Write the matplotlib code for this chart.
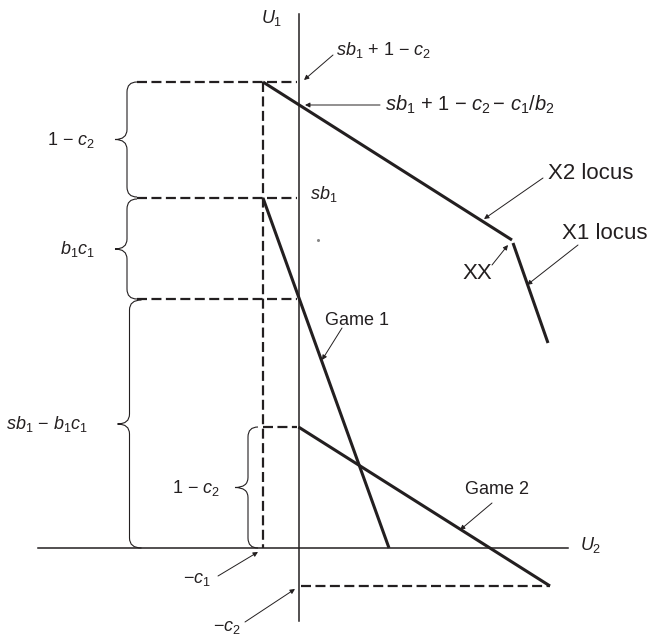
import matplotlib
matplotlib.use('Agg')
import matplotlib.pyplot as plt
from matplotlib.path import Path
from matplotlib.patches import PathPatch

plt.rcParams['font.family'] = ['Liberation Sans', 'DejaVu Sans']
plt.rcParams['mathtext.fontset'] = 'custom'
plt.rcParams['mathtext.rm'] = 'Liberation Sans'
plt.rcParams['mathtext.it'] = 'Liberation Sans:italic'

INK = '#231f20'

# levels (origin where U1 and U2 cross)
sb1 = 3.50
one_c2_top = 1.16
b1c1 = 1.01
one_c2_low = 1.21
c1 = 0.355
c2 = 0.38
xx_point = [2.135, 3.08]
x1_end = [2.495, 2.05]
game1_root = 0.905
game2_end_x = 2.515
stray_dot = [0.195, 3.08]

top = sb1 + one_c2_top
mid = sb1 - b1c1

fig = plt.figure(figsize=(6.51, 6.39), dpi=100)
ax = fig.add_axes([0, 0, 1, 1])
ax.set_xlim(-2.985, 3.525)
ax.set_ylim(-0.91, 5.48)
ax.axis('off')

# axes of the diagram
ax.plot([0, 0], [-0.73, 5.34], color=INK, lw=1.1)
ax.plot([-2.605, 2.695], [0, 0], color=INK, lw=1.1)

# dashed guides
dash = dict(color=INK, lw=1.6, linestyle=(0, (4.5, 2.0)))
for lev in [top, sb1, mid]:
    ax.plot([-1.615, -0.02], [lev, lev], **dash)
ax.plot([-c1, -c1], [top, 0], **dash)
ax.plot([-c1, -0.02], [one_c2_low, one_c2_low], **dash)
ax.plot([0.02, game2_end_x], [-c2, -c2], **dash)

# solid loci
thick = dict(color=INK, lw=2.2, solid_capstyle='butt')
ax.plot([-c1, xx_point[0]], [top, xx_point[1]], **thick)
ax.plot([xx_point[0] + 0.01, x1_end[0]], [xx_point[1] - 0.03, x1_end[1]], **thick)
ax.plot([-c1, game1_root], [sb1, 0], **thick)
ax.plot([0, game2_end_x], [one_c2_low, -c2], **thick)
ax.plot(*stray_dot, 'o', color='#888888', ms=1.2)


def brace(xv, y_top, y_bot, d=0.1, tip=0.12, r=0.1):
    ym = (y_top + y_bot) / 2
    verts = [(xv + d, y_top), (xv, y_top), (xv, y_top - r),
             (xv, ym + r), (xv, ym), (xv - tip, ym),
             (xv, ym), (xv, ym - r),
             (xv, y_bot + r), (xv, y_bot), (xv + d, y_bot)]
    codes = [Path.MOVETO, Path.CURVE3, Path.CURVE3,
             Path.LINETO, Path.CURVE3, Path.CURVE3,
             Path.CURVE3, Path.CURVE3,
             Path.LINETO, Path.CURVE3, Path.CURVE3]
    ax.add_patch(PathPatch(Path(verts, codes), fill=False, ec=INK, lw=0.8))


brace(-1.715, top, sb1 + 0.01)
brace(-1.715, sb1 - 0.01, mid)
brace(-1.69, mid - 0.01, 0, d=0.12)
brace(-0.505, one_c2_low, 0, tip=0.13)


def label(x, y, txt, ha='left', fs=13):
    ax.text(x, y, txt, ha=ha, va='center', fontsize=fs, color=INK)


def arrow(start, end):
    ax.annotate('', xy=end, xytext=start,
                arrowprops=dict(arrowstyle='-|>', lw=0.7, color=INK,
                                mutation_scale=7, shrinkA=0, shrinkB=0))


label(-2.035, (top + sb1) / 2, r'1 − $c_2$', ha='right')
label(-2.035, (sb1 + mid) / 2, r'$b_1c_1$', ha='right')
label(-2.105, mid / 2, r'$sb_1$ − $b_1c_1$', ha='right')
label(-0.785, one_c2_low / 2, r'1 − $c_2$', ha='right')
label(-0.265, 5.30, r'$U_1$', ha='center')
label(2.815, 0.03, r'$U_2$')
label(0.115, sb1 + 0.04, r'$sb_1$')

label(0.375, 4.98, r'$sb_1$ + 1 − $c_2$')
arrow((0.345, 4.93), (0.055, 4.68))
label(0.865, 4.43, r'$sb_1$ + 1 − $c_2\,$− $c_1/b_2$', fs=14.5)
arrow((0.815, 4.43), (0.065, 4.43))
label(-1.015, -0.32, r'−$c_1$', ha='center')
arrow((-0.805, -0.28), (-0.405, -0.04))
label(-0.715, -0.80, r'−$c_2$', ha='center')
arrow((-0.535, -0.74), (-0.035, -0.41))

label(2.495, 3.75, 'X2 locus', fs=16)
arrow((2.445, 3.70), (1.855, 3.29))
label(2.635, 3.15, 'X1 locus', fs=16)
arrow((2.795, 3.03), (2.285, 2.63))
label(1.935, 2.75, 'XX', ha='right', fs=16)
arrow((1.935, 2.83), (2.095, 3.03))

label(0.265, 2.28, 'Game 1')
arrow((0.435, 2.20), (0.235, 1.88))
label(1.665, 0.58, 'Game 2')
arrow((1.935, 0.45), (1.615, 0.18))

fig.savefig('out.png', dpi=100)
